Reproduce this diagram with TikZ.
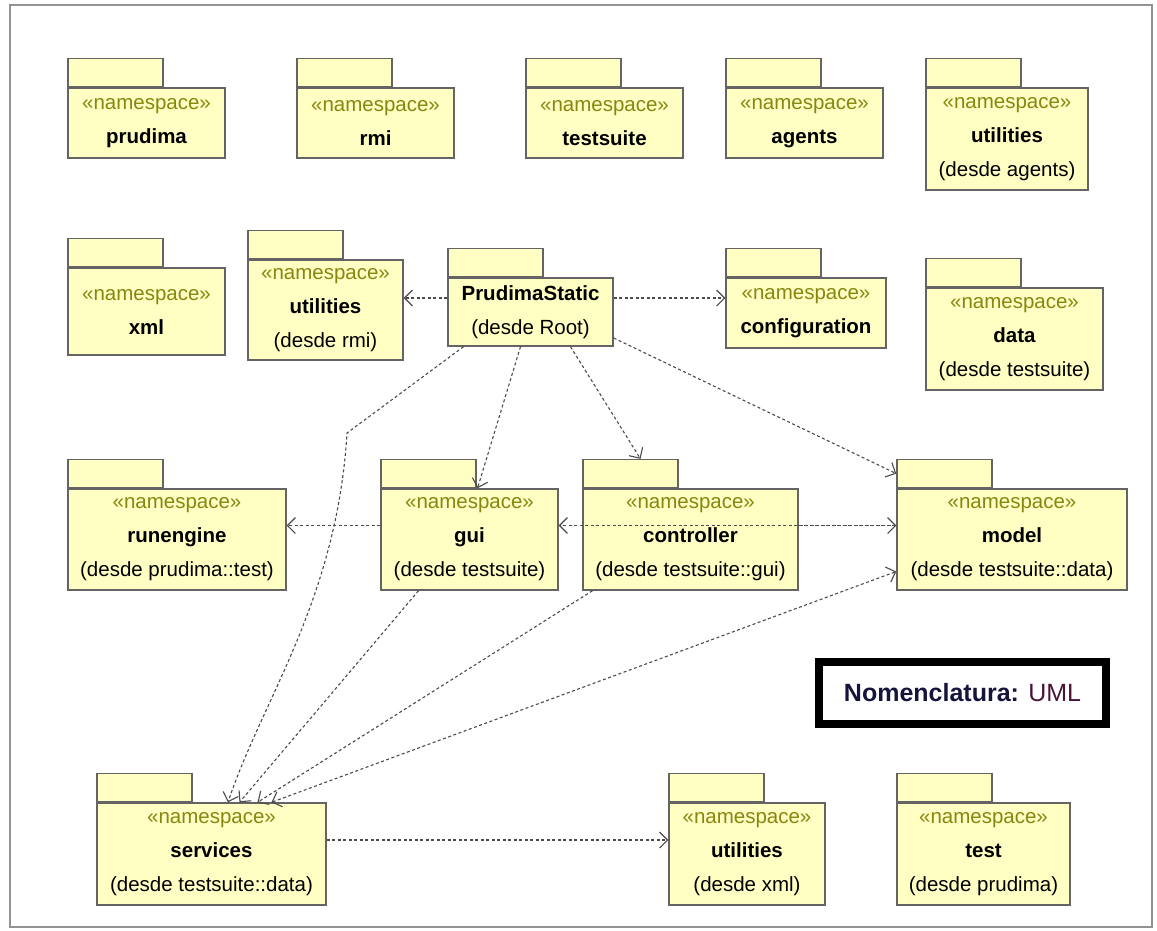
\documentclass[tikz,border=0pt]{standalone}
\usepackage{fontspec}
\setmainfont{Liberation Sans}
\usetikzlibrary{positioning,calc,arrows.meta}

\definecolor{pkgfill}{RGB}{255,255,196}
\definecolor{pkgline}{RGB}{100,100,100}
\definecolor{stereo}{RGB}{135,135,15}
\definecolor{depline}{RGB}{75,75,75}
\definecolor{nomblue}{RGB}{20,20,60}
\definecolor{nomred}{RGB}{75,20,55}
\newcommand{\ns}{{\color{stereo}«namespace»}}

\begin{document}
\begin{tikzpicture}
        [x=1pt,y=-1pt,
        pkg/.style={rectangle,fill=pkgfill,draw=pkgline,line width=1.4pt,inner sep=0pt,align=center,
          font=\fontsize{20.5}{34}\selectfont},
        tab/.style={rectangle,fill=pkgfill,draw=pkgline,line width=1.4pt,inner sep=0pt,
          minimum width=95pt,minimum height=28pt,anchor=south west},
        dep/.style={draw=depline,line width=1.1pt,dash pattern=on 3pt off 2.5pt,
          -{Straight Barb[length=8pt,width=16pt]}},
        frame/.style={draw=gray!85,line width=1.6pt}]
        \useasboundingbox (0,0) rectangle (1157,930);
        \draw[frame] (10,5) rectangle (1152,927);

        % first row
        \node[pkg,minimum width=157pt,minimum height=70pt] (prudima) at (146.5,123) {\ns\\\textbf{prudima}};
        \node[tab] (prudimatab) at (prudima.north west) {};
        \node[pkg,minimum width=157pt,minimum height=70pt] (rmi) at (375.5,123) {\ns\\\textbf{rmi}};
        \node[tab] (rmitab) at (rmi.north west) {};
        \node[pkg,minimum width=157pt,minimum height=70pt] (testsuite) at (604.5,123) {\ns\\\textbf{testsuite}};
        \node[tab] (testsuitetab) at (testsuite.north west) {};
        \node[pkg,minimum width=157pt,minimum height=70pt] (agents) at (804.5,123) {\ns\\\textbf{agents}};
        \node[tab] (agentstab) at (agents.north west) {};
        \node[pkg,minimum width=162pt,minimum height=102pt] (utilag) at (1007,139) {\ns\\\textbf{utilities}\\(desde agents)};
        \node[tab] (utilagtab) at (utilag.north west) {};

        % second row
        \node[pkg,minimum width=157pt,minimum height=87pt] (xml) at (146.5,311.5) {\ns\\\textbf{xml}};
        \node[tab] (xmltab) at (xml.north west) {};
        \node[pkg,minimum width=155pt,minimum height=100pt] (utilrmi) at (325.5,310) {\ns\\\textbf{utilities}\\(desde rmi)};
        \node[tab] (utilrmitab) at (utilrmi.north west) {};
        \node[pkg,minimum width=165pt,minimum height=68pt] (prustatic) at (530.5,312) {\textbf{PrudimaStatic}\\(desde Root)};
        \node[tab] (prustatictab) at (prustatic.north west) {};
        \node[pkg,minimum width=160pt,minimum height=70pt] (config) at (806,313) {\ns\\\textbf{configuration}};
        \node[tab] (configtab) at (config.north west) {};
        \node[pkg,minimum width=177pt,minimum height=102pt] (data) at (1014.5,339) {\ns\\\textbf{data}\\(desde testsuite)};
        \node[tab] (datatab) at (data.north west) {};

        % third row
        \node[pkg,minimum width=218pt,minimum height=101pt] (runengine) at (177,539.5) {\ns\\\textbf{runengine}\\(desde prudima::test)};
        \node[tab] (runenginetab) at (runengine.north west) {};
        \node[pkg,minimum width=177pt,minimum height=101pt] (gui) at (469.5,539.5) {\ns\\\textbf{gui}\\(desde testsuite)};
        \node[tab] (guitab) at (gui.north west) {};
        \node[pkg,minimum width=215pt,minimum height=101pt] (controller) at (690.5,539.5) {\ns\\\textbf{controller}\\(desde testsuite::gui)};
        \node[tab] (controllertab) at (controller.north west) {};
        \node[pkg,minimum width=230pt,minimum height=101pt] (model) at (1012,539.5) {\ns\\\textbf{model}\\(desde testsuite::data)};
        \node[tab] (modeltab) at (model.north west) {};

        % bottom row
        \node[pkg,minimum width=229pt,minimum height=102pt] (services) at (211.5,854) {\ns\\\textbf{services}\\(desde testsuite::data)};
        \node[tab] (servicestab) at (services.north west) {};
        \node[pkg,minimum width=156pt,minimum height=102pt] (utilxml) at (747,854) {\ns\\\textbf{utilities}\\(desde xml)};
        \node[tab] (utilxmltab) at (utilxml.north west) {};
        \node[pkg,minimum width=173pt,minimum height=102pt] (test) at (983.5,854) {\ns\\\textbf{test}\\(desde prudima)};
        \node[tab] (testtab) at (test.north west) {};

        \node[draw=black,line width=8pt,inner sep=0pt,minimum width=287pt,minimum height=62pt,
          font=\fontsize{25}{28}\selectfont] (nomen) at (962.5,693)
          {\textcolor{nomblue}{\textbf{Nomenclatura:}} \textcolor{nomred}{UML}};

        % dependencies
        \coordinate (bend) at (347,433);
        \draw[dep] ([yshift=14pt]prustatic.west) -- ([yshift=14pt]prustatic.west -| utilrmi.east);
        \draw[dep] ([yshift=14pt]prustatic.east) -- ([yshift=14pt]prustatic.east -| config.west);
        \draw[dep] ([xshift=-10pt]prustatic.south) -- ([xshift=8pt]gui.north);
        \draw[dep] ([xshift=40pt]prustatic.south) -- ([xshift=10pt]controllertab.north);
        \draw[dep] ([yshift=-26pt]prustatic.east) -- (modeltab.west);
        \draw[dep] ([xshift=-67pt]prustatic.south) -- (bend)
          .. controls (337,600) and (262,700) .. ([xshift=16.5pt]services.north);
        \draw[dep] ([yshift=14pt]gui.west) -- ([yshift=14pt]gui.west -| runengine.east);
        \draw[dep] ([yshift=14pt]model.west) -- ([yshift=14pt]model.west -| gui.east);
        \draw[dep] ([yshift=14pt]controller.east) -- ([yshift=14pt]controller.east -| model.west);
        \draw[dep] ([xshift=-51pt]gui.south) -- ([xshift=28pt]services.north);
        \draw[dep] ([xshift=-98pt]controller.south) -- ([xshift=46pt]services.north);
        \draw[dep,{Straight Barb[length=8pt,width=16pt]}-{Straight Barb[length=8pt,width=16pt]}]
          ([xshift=60pt]services.north) -- ([yshift=-32pt]model.west);
        \draw[dep] ([yshift=14pt]services.east) -- ([yshift=14pt]services.east -| utilxml.west);
\end{tikzpicture}
\end{document}
